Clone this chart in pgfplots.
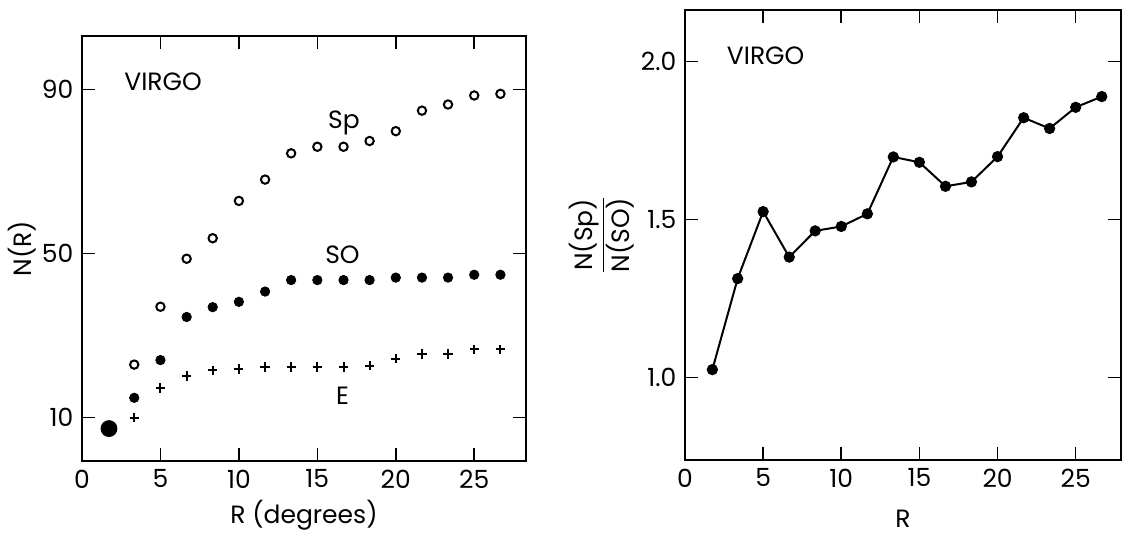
\documentclass[border=0pt]{standalone}
\usepackage{pgfplots}
\pgfplotsset{compat=1.18}
\usepackage{fontspec}
\setmainfont{Poppins}
\begin{document}
\fontsize{12.5}{15}\selectfont
\begin{tikzpicture}
\useasboundingbox (0,0) rectangle (562.5pt,266.5pt);
\pgfplotsset{
  myax/.style={
    scale only axis,
    anchor=south west,
    axis line style={line width=1pt},
    tick align=inside,
    major tick length=6.5pt,
    every tick/.style={black, line width=0.8pt},
    /pgf/number format/assume math mode=true,
    tick label style={font=\fontsize{12.5}{15}\selectfont},
    label style={font=\fontsize{12.5}{15}\selectfont},
    xtick={0,5,10,15,20,25},
  }
}
% Left panel
\begin{axis}[myax,
  at={(41pt,36pt)}, width=222pt, height=212.5pt,
  xmin=0, xmax=28.3, ymin=-0.6, ymax=103,
  ytick={10,50,90},
  xlabel={R (degrees)}, ylabel={N(R)},
  xlabel style={at={(axis description cs:0.5,-0.127)}, anchor=center},
  ylabel style={at={(axis description cs:-0.135,0.5)}, anchor=center},
]
\addplot[only marks, mark=o, mark size=2.1pt, line width=1pt, black] coordinates {
(3.33,22.9) (5,37.0) (6.67,48.7) (8.33,53.7) (10,62.8) (11.67,68.0) (13.33,74.4)
(15,76.0) (16.67,76.0) (18.33,77.4) (20,79.8) (21.67,84.8) (23.33,86.3) (25,88.5) (26.67,88.9)
};
\addplot[only marks, mark=*, mark size=2.35pt, black] coordinates {
(3.33,14.8) (5,24.0) (6.67,34.5) (8.33,36.9) (10,38.2) (11.67,40.7) (13.33,43.5)
(15,43.5) (16.67,43.5) (18.33,43.5) (20,44.1) (21.67,44.1) (23.33,44.1) (25,44.8) (26.67,44.8)
};
\addplot[only marks, mark=+, mark size=2.3pt, line width=1pt, black] coordinates {
(3.33,10.0) (5,17.2) (6.67,20.1) (8.33,21.5) (10,21.8) (11.67,22.3) (13.33,22.3)
(15,22.3) (16.67,22.3) (18.33,22.6) (20,24.3) (21.67,25.5) (23.33,25.5) (25,26.6) (26.67,26.6)
};
\addplot[only marks, mark=*, mark size=4pt, black] coordinates {(1.72,7.3)};
\node at (axis cs:5.17,91.9) {VIRGO};
\node at (axis cs:16.7,81.8) {Sp};
\node at (axis cs:16.6,49.7) {SO};
\node at (axis cs:16.6,15.4) {E};
\end{axis}
% Right panel
\begin{axis}[myax,
  at={(342.5pt,36.5pt)}, width=218pt, height=225pt,
  xmin=0, xmax=27.9, ymin=0.739, ymax=2.163,
  ytick={1.0,1.5,2.0},
  yticklabel style={/pgf/number format/.cd, fixed, fixed zerofill, precision=1},
  xlabel={R},
  ylabel={$\displaystyle\frac{\mbox{N(Sp)}}{\mbox{N(SO)}}$},
  xlabel style={at={(axis description cs:0.5,-0.13)}, anchor=center},
  ylabel style={at={(axis description cs:-0.191,0.5)}, anchor=center},
]
\addplot[mark=*, mark size=2.3pt, line width=1pt, black] coordinates {
(1.75,1.025) (3.37,1.313) (5,1.525) (6.67,1.381) (8.33,1.464) (10,1.478) (11.67,1.518)
(13.33,1.698) (15,1.681) (16.67,1.605) (18.33,1.619) (20,1.699) (21.67,1.822)
(23.33,1.788) (25,1.855) (26.67,1.889)
};
\node at (axis cs:5.16,2.018) {VIRGO};
\end{axis}
\end{tikzpicture}
\end{document}
